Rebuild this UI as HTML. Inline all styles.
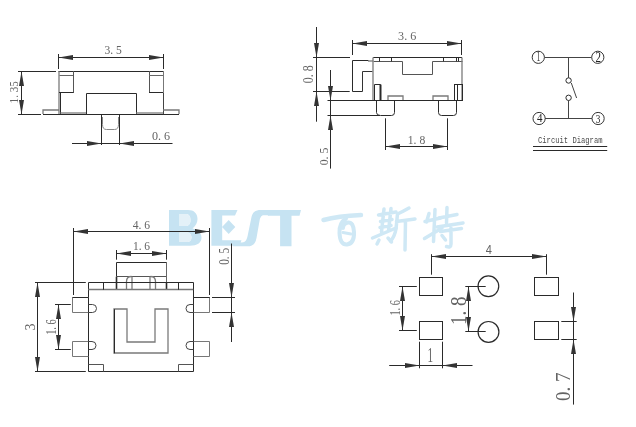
<!DOCTYPE html>
<html><head><meta charset="utf-8"><style>
html,body{margin:0;padding:0;background:#fff;}
body{width:636px;height:427px;overflow:hidden;}
svg{display:block;will-change:transform;}
</style></head><body>
<svg width="636" height="427" viewBox="0 0 636 427"><defs><filter id="bl" x="-5%" y="-20%" width="110%" height="140%"><feGaussianBlur stdDeviation="0.7"/></filter></defs><g filter="url(#bl)"><path fill-rule="evenodd" fill="#c6e3f2" d="M169,210.1 H188 C194,210.1 197.5,213.5 197.5,219 C197.5,223 195.5,226 192.5,228.5 C198,229.5 201.5,233 201.5,237.5 C201.5,243 197,245.7 190,245.7 H169 Z M179.5,214 H186 C189,214 190.5,216.5 190.5,220 C190.5,223.5 189,226 186,226 H179.5 Z M179.5,232.5 H187 C190,232.5 191.5,235 191.5,237.5 C191.5,240 190,242 187,242 H179.5 Z"/><path fill="#e4f1f8" d="M179.5,214 H186 C189,214 190.5,216.5 190.5,220 C190.5,223.5 189,226 186,226 H179.5 Z M179.5,232.5 H187 C190,232.5 191.5,235 191.5,237.5 C191.5,240 190,242 187,242 H179.5 Z"/><path fill="#c6e3f2" d="M211.4,210.1 H237.5 L235,215.5 H222.2 V240.3 H241.5 L239.5,245.7 H211.4 Z"/><path fill="#c6e3f2" d="M222,227 L228.7,220 L235.3,227 L228.7,234 Z"/><path fill="#c6e3f2" d="M271,210.1 H261 C255,210.1 252.5,212.5 251.5,217 L248,234 C247,240 245.5,242.4 242,242.4 H235 L233,246.3 H248 C253,246.3 255.5,243.5 256.5,238 L259.5,221 C260.3,217 261.5,215.3 264,215.3 H269 Z"/><path fill="#c6e3f2" d="M266.5,210.1 H301 L299.5,215.8 H291.5 V246.3 H280.1 V215.8 H268 Z"/><path fill="none" stroke="#cfe8f5" stroke-linecap="round" stroke-linejoin="round" stroke-width="4.5" d="M323.5,220 Q338,216 361,215"/><path fill="none" stroke="#cfe8f5" stroke-linecap="round" stroke-linejoin="round" stroke-width="4" d="M346,218.5 Q339,223 339.5,233 Q340,245 347,244.5 Q354.5,243.5 354,232 Q353.5,222 348,222.5 Q343,223.5 343,228"/><path fill="none" stroke="#cfe8f5" stroke-linecap="round" stroke-linejoin="round" stroke-width="3" d="M343,232.5 L351,234"/><path fill="none" stroke="#cfe8f5" stroke-linecap="round" stroke-linejoin="round" stroke-width="3.5" d="M384,209 L381.5,232 M391,208.5 L388.5,231 M378.5,215 L396,212 M380.5,221.5 L392,219.5 M380,227.5 L391,225.5 M372.5,238 L396,228 M379,240 L377,244 M388,238 L391.5,242"/><path fill="none" stroke="#cfe8f5" stroke-linecap="round" stroke-linejoin="round" stroke-width="3.5" d="M409,208 Q402,212 397.5,214 L396,229 Q394.5,237 390.5,241 M396.5,221.5 L415,219 M405.5,221 L405,250"/><path fill="none" stroke="#cfe8f5" stroke-linecap="round" stroke-linejoin="round" stroke-width="3.5" d="M429,213.5 L426.5,222 M425,221.5 L440.5,218 M435,209.5 L433.5,241.5 M424.5,238.5 L442,228"/><path fill="none" stroke="#cfe8f5" stroke-linecap="round" stroke-linejoin="round" stroke-width="3.5" d="M447,207.5 L446.5,223 M439,218 L457,214.5 M437,227 L463,223 M440.5,231.5 L461.5,228.5 M451,228 L451,244 Q451,248 446.5,246.5 M442,235.5 L445.5,240"/></g>
<line x1="18" y1="71.5" x2="56" y2="71.5" stroke="#2a2a2a" stroke-width="1.0"/>
<line x1="18" y1="114.5" x2="41" y2="114.5" stroke="#2a2a2a" stroke-width="1.0"/>
<line x1="58.5" y1="54" x2="58.5" y2="69" stroke="#2a2a2a" stroke-width="1.0"/>
<line x1="163.5" y1="54" x2="163.5" y2="69" stroke="#2a2a2a" stroke-width="1.0"/>
<line x1="58.5" y1="57.5" x2="163.2" y2="57.5" stroke="#2a2a2a" stroke-width="1.0"/>
<polygon points="58.50,57.50 73.00,55.00 73.00,60.00" fill="#333333"/>
<polygon points="163.50,57.50 149.00,55.00 149.00,60.00" fill="#333333"/>
<text x="0" y="0" transform="translate(104.50,53.67) scale(0.883,1)" font-family="Liberation Serif" font-size="13.13" font-weight="normal" fill="#646464" style="white-space:pre">3. 5</text>
<line x1="58.5" y1="71.5" x2="163.5" y2="71.5" stroke="#2a2a2a" stroke-width="1.0"/>
<line x1="59.0" y1="71" x2="59.0" y2="114" stroke="#7a7a7a" stroke-width="1.3"/>
<line x1="59.5" y1="75.5" x2="73.7" y2="75.5" stroke="#666" stroke-width="1.0"/>
<line x1="73.5" y1="71" x2="73.5" y2="92.7" stroke="#555" stroke-width="1.0"/>
<line x1="59" y1="92.5" x2="73.7" y2="92.5" stroke="#2a2a2a" stroke-width="1.0"/>
<line x1="60.5" y1="92.7" x2="60.5" y2="114.2" stroke="#2a2a2a" stroke-width="1.0"/>
<path d="M 59 110 H 43 V 114" stroke="#7a7a7a" stroke-width="1.3" fill="none"/>
<line x1="43" y1="114.5" x2="179" y2="114.5" stroke="#2a2a2a" stroke-width="1.0"/>
<line x1="60.3" y1="113.0" x2="86.6" y2="113.0" stroke="#7a7a7a" stroke-width="1.3"/>
<path d="M 86.5 114.5 V 93.5 H 136.5 V 114.5" stroke="#2a2a2a" stroke-width="1.0" fill="none"/>
<line x1="149.5" y1="71" x2="149.5" y2="92.6" stroke="#555" stroke-width="1.0"/>
<line x1="149" y1="75.5" x2="163.2" y2="75.5" stroke="#666" stroke-width="1.0"/>
<line x1="149" y1="92.5" x2="163.2" y2="92.5" stroke="#2a2a2a" stroke-width="1.0"/>
<line x1="163.5" y1="71" x2="163.5" y2="92.6" stroke="#777" stroke-width="1.0"/>
<line x1="163.5" y1="92.6" x2="163.5" y2="114.2" stroke="#444" stroke-width="1.0"/>
<line x1="136.1" y1="113.0" x2="163.2" y2="113.0" stroke="#7a7a7a" stroke-width="1.3"/>
<path d="M 163 110 H 179 V 114" stroke="#7a7a7a" stroke-width="1.3" fill="none"/>
<line x1="101.5" y1="114" x2="101.5" y2="145" stroke="#2a2a2a" stroke-width="1.0"/>
<line x1="119.5" y1="114" x2="119.5" y2="145" stroke="#2a2a2a" stroke-width="1.0"/>
<path d="M102.5,117 V124.5 Q102.5,129.5 106.5,129.5 H114.5 Q118.5,129.5 118.5,124.5 V117" stroke="#888" stroke-width="1.0" fill="none"/>
<line x1="72" y1="143.5" x2="172.5" y2="143.5" stroke="#2a2a2a" stroke-width="1.0"/>
<polygon points="101.50,143.50 87.00,141.00 87.00,146.00" fill="#333333"/>
<polygon points="119.50,143.50 134.00,141.00 134.00,146.00" fill="#333333"/>
<text x="0" y="0" transform="translate(151.90,139.77) scale(0.913,1)" font-family="Liberation Serif" font-size="13.28" font-weight="normal" fill="#646464" style="white-space:pre">0. 6</text>
<line x1="21.5" y1="71" x2="21.5" y2="114.2" stroke="#2a2a2a" stroke-width="1.0"/>
<polygon points="21.50,71.50 19.00,86.00 24.00,86.00" fill="#333333"/>
<polygon points="21.50,114.50 19.00,100.00 24.00,100.00" fill="#333333"/>
<text x="0" y="0" transform="translate(17.78,103.40) rotate(-90) scale(0.894,1)" font-family="Liberation Serif" font-size="12.39" font-weight="normal" fill="#646464" style="white-space:pre">1. 35</text>
<line x1="316.5" y1="27" x2="316.5" y2="121.7" stroke="#2a2a2a" stroke-width="1.0"/>
<polygon points="316.50,57.50 314.00,43.00 319.00,43.00" fill="#333333"/>
<polygon points="316.50,91.50 314.00,106.00 319.00,106.00" fill="#333333"/>
<line x1="313" y1="57.5" x2="350" y2="57.5" stroke="#2a2a2a" stroke-width="1.0"/>
<line x1="313" y1="91.5" x2="349.7" y2="91.5" stroke="#2a2a2a" stroke-width="1.0"/>
<text x="0" y="0" transform="translate(312.96,83.20) rotate(-90) scale(0.879,1)" font-family="Liberation Serif" font-size="13.58" font-weight="normal" fill="#646464" style="white-space:pre">0. 8</text>
<line x1="330.5" y1="70" x2="330.5" y2="168.6" stroke="#2a2a2a" stroke-width="1.0"/>
<polygon points="330.50,100.50 328.00,86.00 333.00,86.00" fill="#333333"/>
<polygon points="330.50,115.50 328.00,130.00 333.00,130.00" fill="#333333"/>
<text x="0" y="0" transform="translate(327.67,165.30) rotate(-90) scale(0.893,1)" font-family="Liberation Serif" font-size="13.13" font-weight="normal" fill="#646464" style="white-space:pre">0. 5</text>
<line x1="352.5" y1="40" x2="352.5" y2="55" stroke="#2a2a2a" stroke-width="1.0"/>
<line x1="461.5" y1="40" x2="461.5" y2="55" stroke="#2a2a2a" stroke-width="1.0"/>
<line x1="352.3" y1="43.5" x2="461.3" y2="43.5" stroke="#2a2a2a" stroke-width="1.0"/>
<polygon points="352.50,43.50 367.00,41.00 367.00,46.00" fill="#333333"/>
<polygon points="461.50,43.50 447.00,41.00 447.00,46.00" fill="#333333"/>
<text x="0" y="0" transform="translate(398.10,39.57) scale(0.956,1)" font-family="Liberation Serif" font-size="12.69" font-weight="normal" fill="#646464" style="white-space:pre">3. 6</text>
<path d="M 368.5 60.5 H 352.5 V 91.5 H 362.5" stroke="#2a2a2a" stroke-width="1.0" fill="none"/>
<path d="M 362.5 91.5 V 71.5 H 372.5" stroke="#333" stroke-width="1.0" fill="none"/>
<line x1="368" y1="61.0" x2="373.2" y2="61.0" stroke="#7a7a7a" stroke-width="1.3"/>
<line x1="373.2" y1="57.5" x2="462" y2="57.5" stroke="#2a2a2a" stroke-width="1.1"/>
<path d="M 373.5 61.5 H 402.5 V 74.5 H 432.5 V 61.5 H 462.5" stroke="#555" stroke-width="1.0" fill="none"/>
<line x1="379.5" y1="57.4" x2="379.5" y2="61.4" stroke="#2a2a2a" stroke-width="1.0"/>
<line x1="391.5" y1="57.4" x2="391.5" y2="61.4" stroke="#2a2a2a" stroke-width="1.0"/>
<line x1="443.5" y1="57.4" x2="443.5" y2="61.4" stroke="#2a2a2a" stroke-width="1.0"/>
<line x1="456.5" y1="57.4" x2="456.5" y2="61.4" stroke="#2a2a2a" stroke-width="1.0"/>
<line x1="458.5" y1="57.4" x2="458.5" y2="61.4" stroke="#2a2a2a" stroke-width="1.0"/>
<line x1="373.0" y1="57.4" x2="373.0" y2="100.4" stroke="#7a7a7a" stroke-width="1.3"/>
<line x1="462.0" y1="57.4" x2="462.0" y2="100.4" stroke="#7a7a7a" stroke-width="1.3"/>
<path d="M 374.5 100.5 V 84.5 H 380.5 V 100.5" stroke="#2a2a2a" stroke-width="1.0" fill="none"/>
<line x1="380.5" y1="84.6" x2="380.5" y2="100.4" stroke="#2a2a2a" stroke-width="2.0"/>
<rect x="454.5" y="84.5" width="8.00" height="16.00" stroke="#2a2a2a" stroke-width="1.0" fill="none"/>
<line x1="457.5" y1="84.7" x2="457.5" y2="100.4" stroke="#2a2a2a" stroke-width="1.0"/>
<path d="M 388 100 V 96 H 403 V 100" stroke="#7a7a7a" stroke-width="1.3" fill="none"/>
<path d="M 433 100 V 96 H 448 V 100" stroke="#7a7a7a" stroke-width="1.3" fill="none"/>
<line x1="327.5" y1="100.5" x2="462" y2="100.5" stroke="#2a2a2a" stroke-width="1.0"/>
<path d="M 376.5 100.5 V 112.5 Q 376.5 115.5 380.5 115.5 H 391.5 Q 394.5 115.5 394.5 112.5 V 100.5" stroke="#2a2a2a" stroke-width="1.0" fill="none"/>
<path d="M 438.5 100.5 V 112.5 Q 438.5 115.5 441.5 115.5 H 453.5 Q 456.5 115.5 456.5 112.5 V 100.5" stroke="#2a2a2a" stroke-width="1.0" fill="none"/>
<line x1="327.5" y1="115.5" x2="380" y2="115.5" stroke="#2a2a2a" stroke-width="1.0"/>
<line x1="385.5" y1="118.3" x2="385.5" y2="150" stroke="#2a2a2a" stroke-width="1.0"/>
<line x1="447.5" y1="118.3" x2="447.5" y2="150" stroke="#2a2a2a" stroke-width="1.0"/>
<line x1="385.5" y1="146.5" x2="447.5" y2="146.5" stroke="#2a2a2a" stroke-width="1.0"/>
<polygon points="385.50,146.50 400.00,144.00 400.00,149.00" fill="#333333"/>
<polygon points="447.50,146.50 433.00,144.00 433.00,149.00" fill="#333333"/>
<text x="0" y="0" transform="translate(407.80,143.57) scale(0.864,1)" font-family="Liberation Serif" font-size="13.43" font-weight="normal" fill="#646464" style="white-space:pre">1. 8</text>
<circle cx="538.3" cy="57.3" r="6.1" stroke="#333" stroke-width="1.0" fill="none"/>
<circle cx="597.8" cy="57.3" r="6.1" stroke="#333" stroke-width="1.0" fill="none"/>
<circle cx="539.1" cy="118.5" r="6.1" stroke="#333" stroke-width="1.0" fill="none"/>
<circle cx="598.1" cy="118.5" r="6.1" stroke="#333" stroke-width="1.0" fill="none"/>
<text x="0" y="0" transform="translate(536.80,60.60) scale(0.502,1)" font-family="Liberation Serif" font-size="13.54" font-weight="normal" fill="#222" style="white-space:pre">1</text>
<text x="0" y="0" transform="translate(595.40,61.90) scale(0.769,1)" font-family="Liberation Serif" font-size="14.31" font-weight="normal" fill="#222" style="white-space:pre">2</text>
<text x="0" y="0" transform="translate(537.00,122.00) scale(0.894,1)" font-family="Liberation Serif" font-size="12.31" font-weight="normal" fill="#222" style="white-space:pre">4</text>
<text x="0" y="0" transform="translate(595.80,122.57) scale(0.725,1)" font-family="Liberation Serif" font-size="12.69" font-weight="normal" fill="#222" style="white-space:pre">3</text>
<line x1="544.5" y1="57.5" x2="591.5" y2="57.5" stroke="#444" stroke-width="1.0"/>
<line x1="568.5" y1="57" x2="568.5" y2="77.8" stroke="#444" stroke-width="1.0"/>
<circle cx="568.6" cy="80.5" r="2.7" stroke="#2a2a2a" stroke-width="1" fill="none"/>
<line x1="571.3" y1="83" x2="576.6" y2="98" stroke="#444" stroke-width="1.0"/>
<circle cx="568.6" cy="97.8" r="2.7" stroke="#2a2a2a" stroke-width="1" fill="none"/>
<line x1="568.5" y1="100.5" x2="568.5" y2="118.6" stroke="#444" stroke-width="1.0"/>
<line x1="545" y1="118.5" x2="592" y2="118.5" stroke="#444" stroke-width="1.0"/>
<text x="538" y="143" font-family="Liberation Mono" font-size="9.5" fill="#4a4a4a" text-anchor="start" textLength="64.5" lengthAdjust="spacingAndGlyphs">Circuit Diagram</text>
<line x1="533" y1="146.5" x2="607.2" y2="146.5" stroke="#2a2a2a" stroke-width="1.2"/>
<line x1="533" y1="150.5" x2="607.2" y2="150.5" stroke="#2a2a2a" stroke-width="1.2"/>
<line x1="73.5" y1="228" x2="73.5" y2="295" stroke="#2a2a2a" stroke-width="1.0"/>
<line x1="209.5" y1="228" x2="209.5" y2="295" stroke="#2a2a2a" stroke-width="1.0"/>
<line x1="73.3" y1="231.5" x2="209.3" y2="231.5" stroke="#2a2a2a" stroke-width="1.0"/>
<polygon points="73.50,231.50 88.00,229.00 88.00,234.00" fill="#333333"/>
<polygon points="209.50,231.50 195.00,229.00 195.00,234.00" fill="#333333"/>
<text x="0" y="0" transform="translate(132.70,228.63) scale(0.931,1)" font-family="Liberation Serif" font-size="12.46" font-weight="normal" fill="#646464" style="white-space:pre">4. 6</text>
<line x1="116.5" y1="250" x2="116.5" y2="259.7" stroke="#2a2a2a" stroke-width="1.0"/>
<line x1="166.5" y1="250" x2="166.5" y2="259.7" stroke="#2a2a2a" stroke-width="1.0"/>
<line x1="116.3" y1="253.5" x2="166.3" y2="253.5" stroke="#2a2a2a" stroke-width="1.0"/>
<polygon points="116.50,253.50 131.00,251.00 131.00,256.00" fill="#333333"/>
<polygon points="166.50,253.50 152.00,251.00 152.00,256.00" fill="#333333"/>
<text x="0" y="0" transform="translate(132.90,250.27) scale(0.915,1)" font-family="Liberation Serif" font-size="12.54" font-weight="normal" fill="#646464" style="white-space:pre">1. 6</text>
<path d="M 116.5 276.5 V 262.5 H 166.5 V 282.5" stroke="#2a2a2a" stroke-width="1.0" fill="none"/>
<line x1="116.3" y1="276.5" x2="166.3" y2="276.5" stroke="#555" stroke-width="1.0"/>
<line x1="116.5" y1="276.7" x2="116.5" y2="289.7" stroke="#2a2a2a" stroke-width="1.6"/>
<line x1="166.5" y1="282.2" x2="166.5" y2="289.7" stroke="#2a2a2a" stroke-width="1.6"/>
<line x1="166.5" y1="262.5" x2="166.5" y2="282.2" stroke="#666" stroke-width="1.0"/>
<path d="M126.5,289.5 V281.5 Q126.5,276.5 131.5,276.5" stroke="#7a7a7a" stroke-width="1.3" fill="none"/>
<line x1="132.0" y1="276.5" x2="132.0" y2="289.5" stroke="#7a7a7a" stroke-width="1.3"/>
<line x1="150.0" y1="276.5" x2="150.0" y2="289.5" stroke="#7a7a7a" stroke-width="1.3"/>
<path d="M155.5,289.5 V281.5 Q155.5,276.5 150.5,276.5" stroke="#7a7a7a" stroke-width="1.3" fill="none"/>
<path d="M 88.5 371.5 V 282.5 H 193.5 V 371.5 Z" stroke="#2a2a2a" stroke-width="1.0" fill="none"/>
<line x1="88.3" y1="289.5" x2="193.3" y2="289.5" stroke="#777" stroke-width="1.4"/>
<line x1="103.5" y1="282.2" x2="103.5" y2="289.7" stroke="#2a2a2a" stroke-width="1.0"/>
<line x1="178.5" y1="282.2" x2="178.5" y2="289.7" stroke="#2a2a2a" stroke-width="1.0"/>
<path d="M 88.5 297.5 H 72.5 V 312.5 H 88.5" stroke="#777" stroke-width="1.0" fill="none"/>
<line x1="72.5" y1="297.5" x2="88.3" y2="297.5" stroke="#2a2a2a" stroke-width="1.0"/>
<path d="M88.5,304.5 H92.5 A4,4 0 0 1 92.5,312.5 H88.5" stroke="#444" stroke-width="1.0" fill="none"/>
<path d="M 193.5 297.5 H 209.5 V 312.5 H 193.5" stroke="#777" stroke-width="1.0" fill="none"/>
<line x1="193.3" y1="297.5" x2="209.7" y2="297.5" stroke="#2a2a2a" stroke-width="1.0"/>
<path d="M193.5,304.5 H190 A4,4 0 0 0 190,312.5 H193.5" stroke="#444" stroke-width="1.0" fill="none"/>
<path d="M 88.5 341.5 H 72.5 V 356.5 H 88.5" stroke="#777" stroke-width="1.0" fill="none"/>
<path d="M88.5,341.5 H92 A4,4 0 0 1 92,349.5 H88.5" stroke="#444" stroke-width="1.0" fill="none"/>
<path d="M 193.5 341.5 H 209.5 V 356.5 H 193.5" stroke="#777" stroke-width="1.0" fill="none"/>
<path d="M193.5,341.5 H190 A4,4 0 0 0 190,349.5 H193.5" stroke="#444" stroke-width="1.0" fill="none"/>
<path d="M 88.5 364.5 H 103.5 V 371.5" stroke="#555" stroke-width="1.0" fill="none"/>
<path d="M 193.5 364.5 H 178.5 V 371.5" stroke="#555" stroke-width="1.0" fill="none"/>
<path d="M 114 309 V 353 H 168 V 309 H 155 V 342 H 127 V 309 Z" stroke="#7a7a7a" stroke-width="1.3" fill="none"/>
<line x1="114.5" y1="309.2" x2="114.5" y2="353.3" stroke="#2a2a2a" stroke-width="1.0"/>
<line x1="35" y1="282.5" x2="85.8" y2="282.5" stroke="#2a2a2a" stroke-width="1.0"/>
<line x1="35" y1="371.5" x2="85.8" y2="371.5" stroke="#2a2a2a" stroke-width="1.0"/>
<line x1="37.5" y1="282.2" x2="37.5" y2="371.3" stroke="#2a2a2a" stroke-width="1.0"/>
<polygon points="37.50,282.50 35.00,297.00 40.00,297.00" fill="#333333"/>
<polygon points="37.50,371.50 35.00,357.00 40.00,357.00" fill="#333333"/>
<text x="0" y="0" transform="translate(35.35,330.40) rotate(-90) scale(0.938,1)" font-family="Liberation Serif" font-size="14.93" font-weight="normal" fill="#646464" style="white-space:pre">3</text>
<line x1="55" y1="304.5" x2="70.8" y2="304.5" stroke="#2a2a2a" stroke-width="1.0"/>
<line x1="55" y1="349.5" x2="70.8" y2="349.5" stroke="#2a2a2a" stroke-width="1.0"/>
<line x1="58.5" y1="304.5" x2="58.5" y2="349.5" stroke="#2a2a2a" stroke-width="1.0"/>
<polygon points="58.50,304.50 56.00,319.00 61.00,319.00" fill="#333333"/>
<polygon points="58.50,349.50 56.00,335.00 61.00,335.00" fill="#333333"/>
<text x="0" y="0" transform="translate(56.44,334.80) rotate(-90) scale(0.666,1)" font-family="Liberation Serif" font-size="15.52" font-weight="normal" fill="#646464" style="white-space:pre">1. 6</text>
<line x1="212" y1="297.5" x2="235" y2="297.5" stroke="#2a2a2a" stroke-width="1.0"/>
<line x1="212" y1="312.5" x2="235" y2="312.5" stroke="#2a2a2a" stroke-width="1.0"/>
<line x1="231.5" y1="243.5" x2="231.5" y2="342" stroke="#2a2a2a" stroke-width="1.0"/>
<polygon points="231.50,297.50 229.00,283.00 234.00,283.00" fill="#333333"/>
<polygon points="231.50,312.50 229.00,327.00 234.00,327.00" fill="#333333"/>
<text x="0" y="0" transform="translate(228.56,264.80) rotate(-90) scale(0.825,1)" font-family="Liberation Serif" font-size="13.58" font-weight="normal" fill="#646464" style="white-space:pre">0. 5</text>
<rect x="419.5" y="277.5" width="23.00" height="18.00" stroke="#2a2a2a" stroke-width="1.0" fill="none"/>
<rect x="534.5" y="277.5" width="24.00" height="18.00" stroke="#2a2a2a" stroke-width="1.0" fill="none"/>
<rect x="419.5" y="321.5" width="23.00" height="18.00" stroke="#2a2a2a" stroke-width="1.0" fill="none"/>
<rect x="534.5" y="321.5" width="24.00" height="18.00" stroke="#2a2a2a" stroke-width="1.0" fill="none"/>
<circle cx="488.4" cy="286.3" r="10.35" stroke="#2a2a2a" stroke-width="1.2" fill="none"/>
<circle cx="488.5" cy="331.9" r="10.4" stroke="#2a2a2a" stroke-width="1.2" fill="none"/>
<line x1="431.5" y1="254.2" x2="431.5" y2="274.7" stroke="#2a2a2a" stroke-width="1.0"/>
<line x1="546.5" y1="254.2" x2="546.5" y2="274.7" stroke="#2a2a2a" stroke-width="1.0"/>
<line x1="431.3" y1="256.5" x2="546.7" y2="256.5" stroke="#2a2a2a" stroke-width="1.0"/>
<polygon points="431.50,256.50 446.00,254.00 446.00,259.00" fill="#333333"/>
<polygon points="546.50,256.50 532.00,254.00 532.00,259.00" fill="#333333"/>
<text x="0" y="0" transform="translate(485.70,254.20) scale(0.821,1)" font-family="Liberation Sans" font-size="13.48" font-weight="normal" fill="#646464" style="white-space:pre">4</text>
<line x1="399" y1="286.5" x2="416.8" y2="286.5" stroke="#2a2a2a" stroke-width="1.0"/>
<line x1="399" y1="330.5" x2="416.8" y2="330.5" stroke="#2a2a2a" stroke-width="1.0"/>
<line x1="402.5" y1="286.3" x2="402.5" y2="330.3" stroke="#2a2a2a" stroke-width="1.0"/>
<polygon points="402.50,286.50 400.00,301.00 405.00,301.00" fill="#333333"/>
<polygon points="402.50,330.50 400.00,316.00 405.00,316.00" fill="#333333"/>
<text x="0" y="0" transform="translate(400.25,315.60) rotate(-90) scale(0.674,1)" font-family="Liberation Serif" font-size="15.22" font-weight="normal" fill="#646464" style="white-space:pre">1. 6</text>
<line x1="465.3" y1="286.5" x2="485.7" y2="286.5" stroke="#2a2a2a" stroke-width="1.0"/>
<line x1="465.3" y1="331.5" x2="485.7" y2="331.5" stroke="#2a2a2a" stroke-width="1.0"/>
<line x1="468.5" y1="286.3" x2="468.5" y2="331.3" stroke="#2a2a2a" stroke-width="1.0"/>
<polygon points="468.50,286.50 466.00,301.00 471.00,301.00" fill="#333333"/>
<polygon points="468.50,331.50 466.00,317.00 471.00,317.00" fill="#333333"/>
<text x="0" y="0" transform="translate(465.88,325.10) rotate(-90) scale(0.849,1)" font-family="Liberation Serif" font-size="22.39" font-weight="normal" fill="#646464" style="white-space:pre">1. 8</text>
<line x1="419.5" y1="341.7" x2="419.5" y2="368.3" stroke="#2a2a2a" stroke-width="1.0"/>
<line x1="442.5" y1="341.7" x2="442.5" y2="368.3" stroke="#2a2a2a" stroke-width="1.0"/>
<line x1="389.2" y1="365.5" x2="472.5" y2="365.5" stroke="#2a2a2a" stroke-width="1.0"/>
<polygon points="419.50,365.50 405.00,363.00 405.00,368.00" fill="#333333"/>
<polygon points="442.50,365.50 457.00,363.00 457.00,368.00" fill="#333333"/>
<text x="0" y="0" transform="translate(427.50,361.75) scale(0.545,1)" font-family="Liberation Serif" font-size="20.54" font-weight="normal" fill="#646464" style="white-space:pre">1</text>
<line x1="561.3" y1="321.5" x2="576.7" y2="321.5" stroke="#2a2a2a" stroke-width="1.0"/>
<line x1="561.3" y1="339.5" x2="576.7" y2="339.5" stroke="#2a2a2a" stroke-width="1.0"/>
<line x1="573.5" y1="292.5" x2="573.5" y2="404.6" stroke="#2a2a2a" stroke-width="1.0"/>
<polygon points="573.50,321.50 571.00,307.00 576.00,307.00" fill="#333333"/>
<polygon points="573.50,339.50 571.00,354.00 576.00,354.00" fill="#333333"/>
<text x="0" y="0" transform="translate(570.38,400.90) rotate(-90) scale(0.866,1)" font-family="Liberation Serif" font-size="21.94" font-weight="normal" fill="#646464" style="white-space:pre">0. 7</text></svg>
</body></html>
